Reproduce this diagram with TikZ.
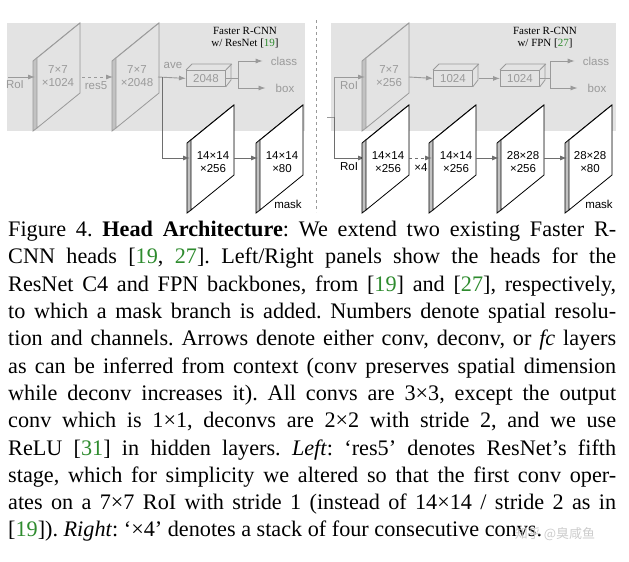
\documentclass[tikz,border=0pt]{standalone}
\usepackage{fontspec}
\setmainfont{Liberation Serif}
\newfontfamily\lsans{Liberation Sans}
\newfontfamily\cjk{Noto Sans CJK SC}
\usetikzlibrary{arrows.meta}
\definecolor{lg}{HTML}{9A9A9A}
\definecolor{pg}{HTML}{E3E3E3}
\definecolor{dk}{HTML}{6E6E6E}
\definecolor{cg}{HTML}{2E8B2E}
\tikzset{
  lbl/.style={font=\lsans\fontsize{11.5}{13}\selectfont, inner sep=0pt, align=center},
  glbl/.style={lbl, text=lg},
  klbl/.style={lbl, text=black},
  arr/.style={draw=dk, line width=0.9pt, -{Latex[length=7pt,width=5pt]}},
  garr/.style={draw=lg, line width=0.9pt, -{Latex[length=7pt,width=5pt]}},
  ttl/.style={font=\fontsize{11}{12}\selectfont, inner sep=0pt, align=center},
  box3/.style={draw=lg, line width=0.8pt, minimum width=39pt, minimum height=16pt, inner sep=0pt, text=lg, font=\lsans\fontsize{11.5}{13}\selectfont}
}
\newcommand{\myslab}[5]{% x, ytop, back fill, front fill, line color
  \fill[#3] (#1,#2+3) -- (#1+43,#2-32) -- (#1+47,#2-35) -- (#1+47,#2+35) -- (#1+4,#2+70) -- (#1,#2+73) -- cycle;
  \draw[#5, line width=0.8pt] (#1,#2+3) -- (#1+43,#2-32) -- (#1+47,#2-35);
  \draw[#5, line width=0.8pt] (#1,#2+3) -- (#1,#2+73) -- (#1+4,#2+70);
  \filldraw[fill=#4, draw=#5, line width=0.8pt] (#1+4,#2) -- (#1+47,#2-35) -- (#1+47,#2+35) -- (#1+4,#2+70) -- cycle;
}
\newcommand{\mybox}[3]{% name, x-left, text
  \node[box3, anchor=north west] (#1) at (#2,70) {#3};
  \draw[lg, line width=0.8pt] (#1.north west) -- ++(6,-6) -- ++(39,0) -- ++(0,16) -- (#1.south east);
  \draw[lg, line width=0.8pt] (#1.north east) -- ++(6,-6);
}
\begin{document}
\begin{tikzpicture}[x=1pt,y=-1pt]
\useasboundingbox (0,0) rectangle (629,562);
% panels
\fill[pg] (7,23) rectangle (305,131);
\fill[pg] (331,23) rectangle (616,131);
\draw[lg, dashed, line width=0.6pt] (316,20) -- (316,212);
% ---------- left ----------
\myslab{33}{58}{lg!60}{pg}{lg}
\myslab{112}{58}{lg!60}{pg}{lg}
\node[glbl] (l1) at (58,76) {7×7\\×1024};
\node[glbl] (l2) at (137,76) {7×7\\×2048};
\node[glbl] (roiL) at (15,85) {RoI};
\node[glbl] (res5) at (96,86) {res5};
\node[glbl] (ave) at (173,65) {ave};
\coordinate (a0) at (8,77); \coordinate (a1) at (35,77);
\draw[garr] (a0) -- (a1);
\coordinate (b0) at (82,77); \coordinate (b1) at (113,77);
\draw[garr, dashed] (b0) -- (b1);
\mybox{bx}{186}{2048}
\coordinate (c0) at (158,77);
\draw[garr] (c0) -- (bx.west);
\coordinate (sp) at (238,78);
\node[glbl] (cls) at (284,61) {class};
\node[glbl] (bxl) at (285,88) {box};
\draw[garr] (bx.east) -| (sp |- cls) -- ([xshift=-8pt]cls.west);
\draw[garr] (sp) |- ([xshift=-10pt]bxl.west);
\node[ttl] (t1) at (245,38) {Faster R-CNN\\w/ ResNet [\textcolor{cg}{19}]};
\myslab{187}{140}{lg!60}{white}{black}
\myslab{256}{140}{lg!60}{white}{black}
\coordinate (d0) at (162,77); \coordinate (d1) at (190,158);
\draw[arr] (d0) |- (d1);
\coordinate (e0) at (234,158); \coordinate (e1) at (258,158);
\draw[arr] (e0) -- (e1);
\node[klbl] (l3) at (213,162) {14×14\\×256};
\node[klbl] (l4) at (282,162) {14×14\\×80};
\node[klbl] (m1) at (288,204) {mask};
% ---------- right ----------
\myslab{362}{58}{lg!60}{pg}{lg}
\node[glbl] (r1) at (389,76) {7×7\\×256};
\node[glbl] (roiR1) at (349,86) {RoI};
\mybox{bA}{433}{1024}
\mybox{bB}{500}{1024}
\coordinate (f0) at (409,77);
\draw[garr] (f0) -- (bA.west);
\draw[garr] ([xshift=6pt]bA.east) -- (bB.west);
\coordinate (sp2) at (550,78);
\node[glbl] (cls2) at (596,61) {class};
\node[glbl] (bxl2) at (597,88) {box};
\draw[garr] (bB.east) -| (sp2 |- cls2) -- ([xshift=-8pt]cls2.west);
\draw[garr] (sp2) |- ([xshift=-10pt]bxl2.west);
\node[ttl] (t2) at (545,38) {Faster R-CNN\\w/ FPN [\textcolor{cg}{27}]};
\coordinate (g0) at (327,117); \coordinate (g1) at (334,117);
\coordinate (g2) at (365,77); \coordinate (g3) at (365,158);
\draw[lg, line width=0.9pt] (g0) -- (g1);
\draw[garr] (g1) |- (g2);
\draw[arr] (g1) |- (g3);
\myslab{362}{140}{lg!60}{white}{black}
\myslab{429}{140}{lg!60}{white}{black}
\myslab{497}{140}{lg!60}{white}{black}
\myslab{565}{140}{lg!60}{white}{black}
\node[klbl] (roiR2) at (349,167) {RoI};
\node[klbl] (ra) at (388,162) {14×14\\×256};
\node[klbl] (rb) at (456,162) {14×14\\×256};
\node[klbl] (rc) at (523,162) {28×28\\×256};
\node[klbl] (rd) at (590,162) {28×28\\×80};
\node[klbl] (x4) at (421,168) {×4};
\node[klbl] (m2) at (599,204) {mask};
\coordinate (h0) at (409,158); \coordinate (h1) at (432,158);
\draw[arr, dashed] (h0) -- (h1);
\coordinate (h2) at (476,158); \coordinate (h3) at (499,158);
\draw[arr] (h2) -- (h3);
\coordinate (h4) at (544,158); \coordinate (h5) at (567,158);
\draw[arr] (h4) -- (h5);
% ---------- caption ----------
\node[anchor=north west, text width=608pt, align=justify, inner sep=0pt,
      font=\fontsize{22.2}{27.3}\selectfont\frenchspacing] (cap) at (8,221) {%
Figure 4. \textbf{Head Architecture}: We extend two existing Faster R-\linebreak{}
CNN heads [\textcolor{cg}{19}, \textcolor{cg}{27}]. Left/Right panels show the heads for the\linebreak{}
ResNet C4 and FPN backbones, from [\textcolor{cg}{19}] and [\textcolor{cg}{27}], respectively,\linebreak{}
to which a mask branch is added. Numbers denote spatial resolu-\linebreak{}
tion and channels. Arrows denote either conv, deconv, or \textit{fc} layers\linebreak{}
as can be inferred from context (conv preserves spatial dimension\linebreak{}
while deconv increases it). All convs are 3×3, except the output\linebreak{}
conv which is 1×1, deconvs are 2×2 with stride 2, and we use\linebreak{}
ReLU [\textcolor{cg}{31}] in hidden layers. \textit{Left}: `res5' denotes ResNet's fifth\linebreak{}
stage, which for simplicity we altered so that the first conv oper-\linebreak{}
ates on a 7×7 RoI with stride 1 (instead of 14×14 / stride 2 as in\linebreak{}
[\textcolor{cg}{19}]). \textit{Right}: `×4' denotes a stack of four consecutive convs.\par};
\node[font=\cjk\fontsize{13}{14}\selectfont, text=black!20, inner sep=0pt] (wm) at (555,534) {知乎 @臭咸鱼};
\end{tikzpicture}
\end{document}
